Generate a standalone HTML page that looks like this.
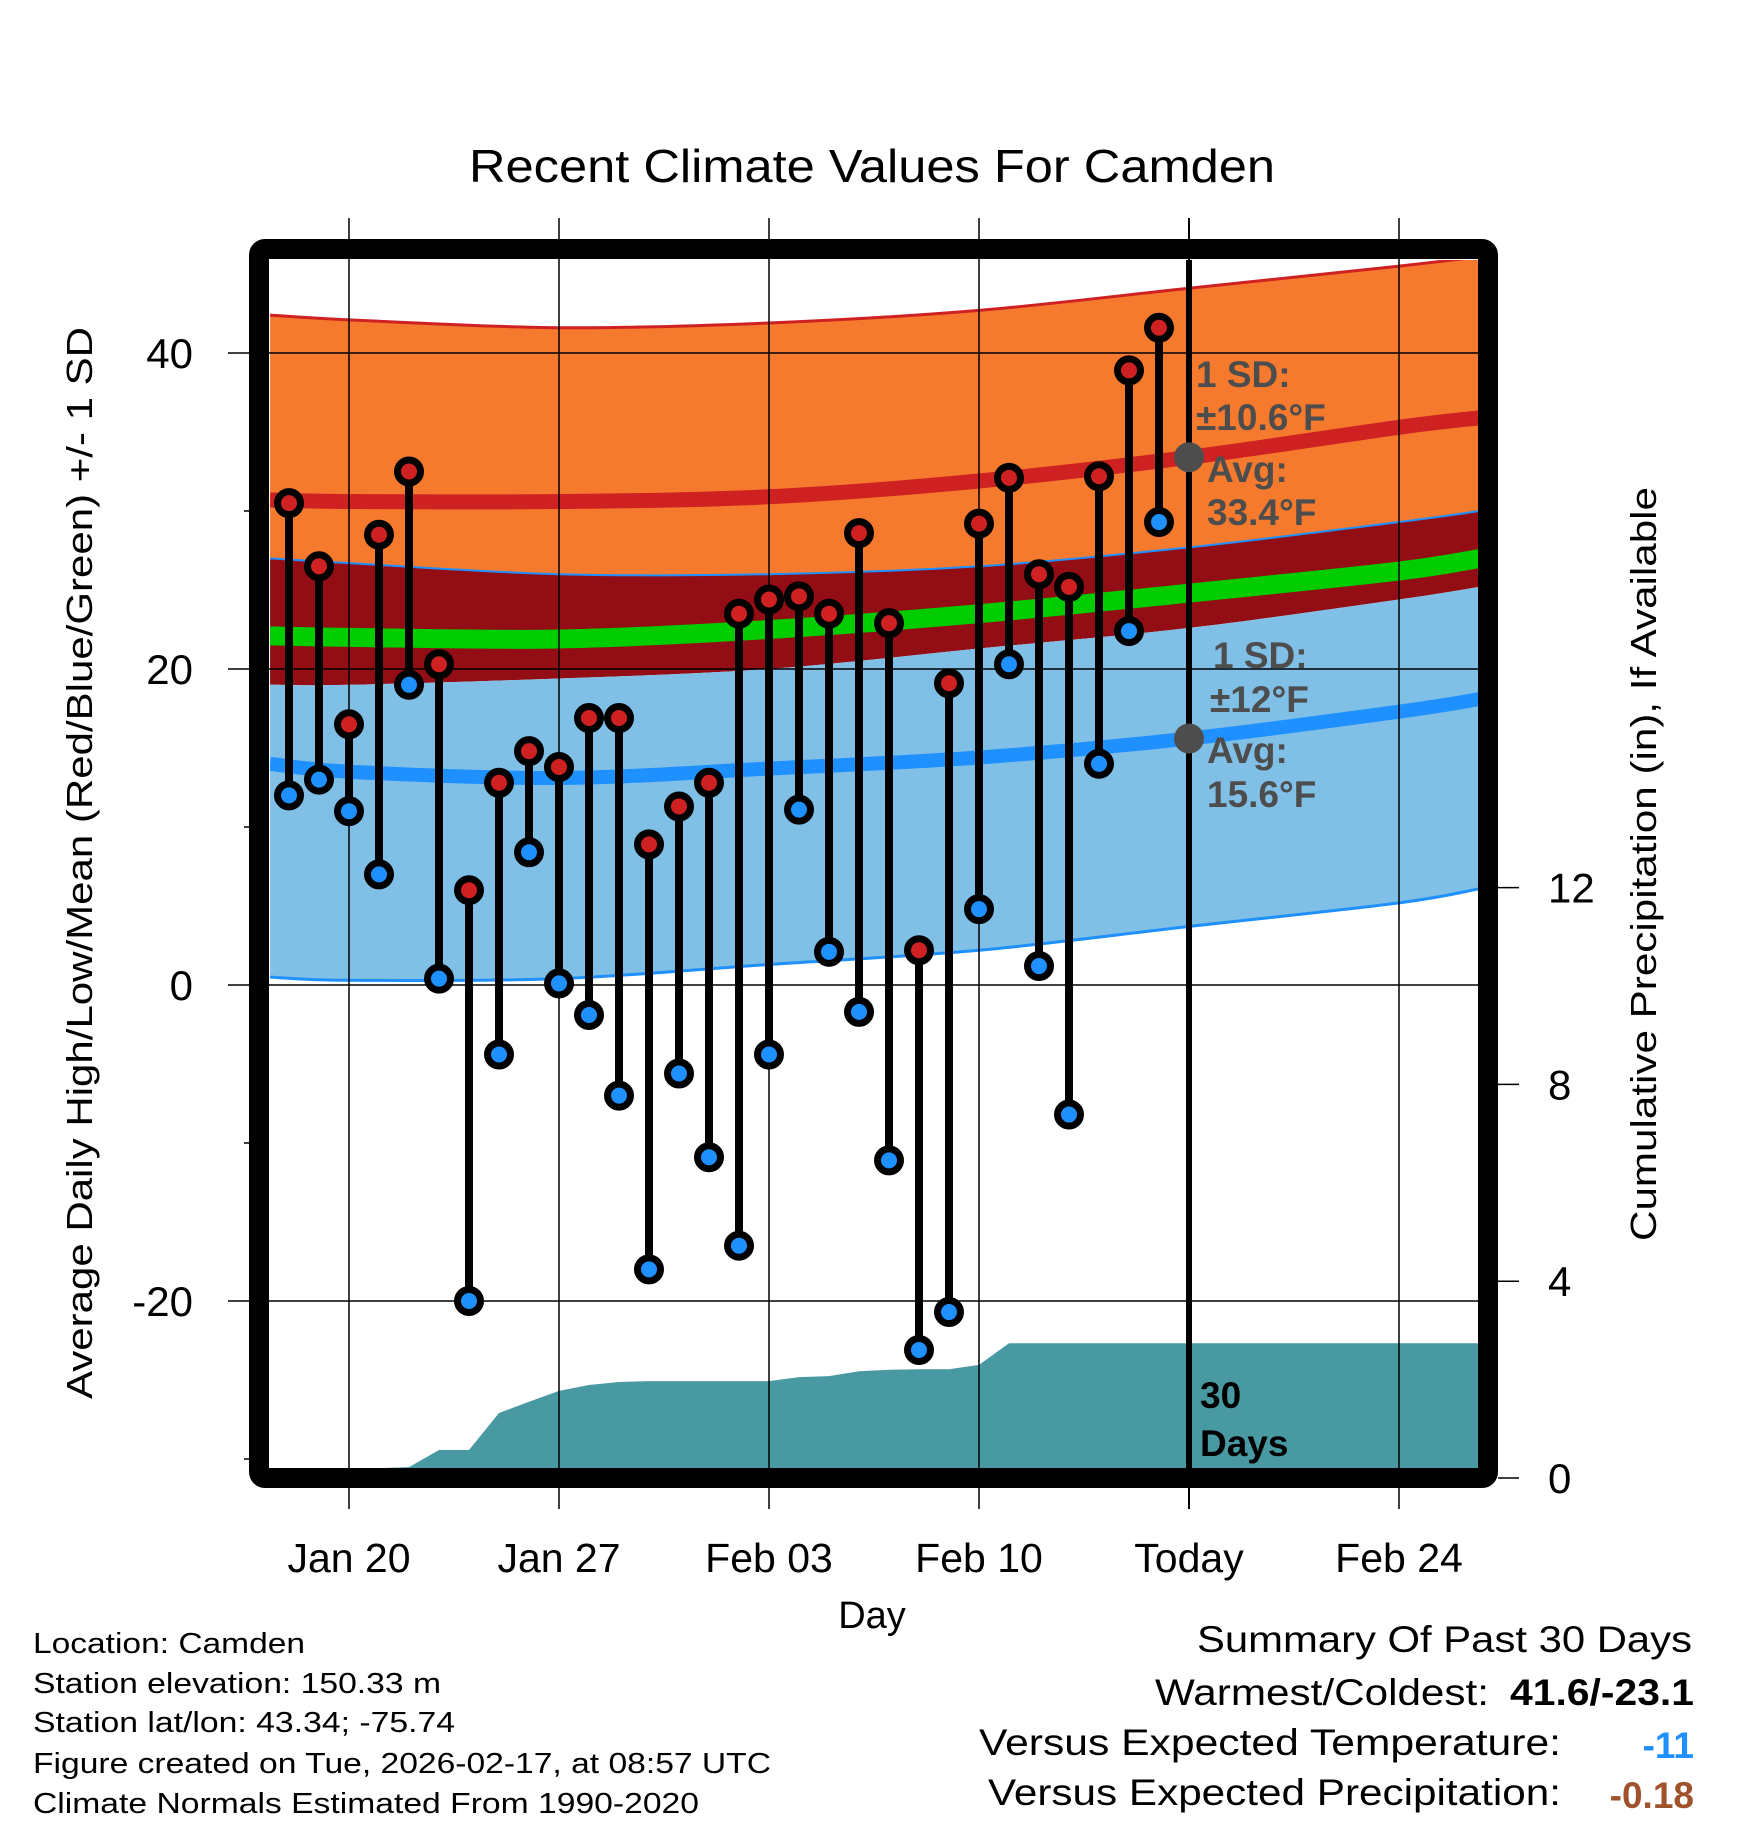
<!DOCTYPE html>
<html><head><meta charset="utf-8"><style>
html,body{margin:0;padding:0;background:#fff;}
svg{display:block;font-family:"Liberation Sans",Arial,sans-serif;}
</style></head><body>
<svg id="chart" width="1748" height="1828" viewBox="0 0 1748 1828" xmlns="http://www.w3.org/2000/svg">
<defs><clipPath id="plotclip"><rect x="270" y="260" width="1208" height="1208"/></clipPath></defs>
<g id="fills" clip-path="url(#plotclip)"></g>
<g id="grid"></g>
<g id="marks" clip-path="url(#plotclip)"></g>
<g id="annot">
  <g font-weight="bold" fill="#4d4d4d" font-size="37">
    <text x="1196" y="387">1 SD:</text>
    <text x="1196" y="430">±10.6°F</text>
    <text x="1207" y="482">Avg:</text>
    <text x="1207" y="525">33.4°F</text>
    <text x="1213" y="668">1 SD:</text>
    <text x="1210" y="712">±12°F</text>
    <text x="1207" y="763">Avg:</text>
    <text x="1207" y="807">15.6°F</text>
  </g>
  <text x="1200" y="1408" font-weight="bold" font-size="37" fill="#000">30</text>
  <text x="1200" y="1456" font-weight="bold" font-size="37" fill="#000">Days</text>
</g>
<g id="frame">
  <rect x="259" y="249" width="1229" height="1229" rx="6" fill="none" stroke="#000" stroke-width="20"/>
</g>
<g id="axes"></g>
<g>
  <text x="872" y="182" text-anchor="middle" font-size="46" textLength="806" lengthAdjust="spacingAndGlyphs">Recent Climate Values For Camden</text>
  <text x="872" y="1628" text-anchor="middle" font-size="38">Day</text>
  <text transform="translate(92,863) rotate(-90)" text-anchor="middle" font-size="36" textLength="1072" lengthAdjust="spacingAndGlyphs">Average Daily High/Low/Mean (Red/Blue/Green) +/- 1 SD</text>
  <text transform="translate(1656,864) rotate(-90)" text-anchor="middle" font-size="36" textLength="754" lengthAdjust="spacingAndGlyphs">Cumulative Precipitation (in), If Available</text>
</g>
<g font-size="29">
  <text x="33" y="1653" textLength="272" lengthAdjust="spacingAndGlyphs">Location: Camden</text>
  <text x="33" y="1693" textLength="408" lengthAdjust="spacingAndGlyphs">Station elevation: 150.33 m</text>
  <text x="33" y="1732" textLength="422" lengthAdjust="spacingAndGlyphs">Station lat/lon: 43.34; -75.74</text>
  <text x="33" y="1773" textLength="738" lengthAdjust="spacingAndGlyphs">Figure created on Tue, 2026-02-17, at 08:57 UTC</text>
  <text x="33" y="1813" textLength="666" lengthAdjust="spacingAndGlyphs">Climate Normals Estimated From 1990-2020</text>
</g>
<g font-size="37">
  <text x="1692" y="1652" text-anchor="end" textLength="495" lengthAdjust="spacingAndGlyphs">Summary Of Past 30 Days</text>
  <text x="1489" y="1705" text-anchor="end" textLength="334" lengthAdjust="spacingAndGlyphs">Warmest/Coldest:</text>
  <text x="1694" y="1705" text-anchor="end" font-weight="bold" textLength="184" lengthAdjust="spacingAndGlyphs">41.6/-23.1</text>
  <text x="1561" y="1755" text-anchor="end" textLength="582" lengthAdjust="spacingAndGlyphs">Versus Expected Temperature:</text>
  <text x="1694" y="1758" text-anchor="end" font-weight="bold" fill="#1e90ff">-11</text>
  <text x="1561" y="1805" text-anchor="end" textLength="573" lengthAdjust="spacingAndGlyphs">Versus Expected Precipitation:</text>
  <text x="1694" y="1808" text-anchor="end" font-weight="bold" fill="#a0522d">-0.18</text>
</g>
</svg>
<script>
// ---- data ----
const days = ["Jan 18","Jan 19","Jan 20","Jan 21","Jan 22","Jan 23","Jan 24","Jan 25","Jan 26","Jan 27","Jan 28","Jan 29","Jan 30","Jan 31","Feb 01","Feb 02","Feb 03","Feb 04","Feb 05","Feb 06","Feb 07","Feb 08","Feb 09","Feb 10","Feb 11","Feb 12","Feb 13","Feb 14","Feb 15","Feb 16"];
const highs = [30.5,26.5,16.5,28.5,32.5,20.3,6.0,12.8,14.8,13.8,16.9,16.9,8.9,11.3,12.8,23.5,24.4,24.6,23.5,28.6,22.9,2.2,19.1,29.2,32.1,26.0,25.2,32.2,38.9,41.6];
const lows = [12.0,13.0,11.0,7.0,19.0,0.4,-20.0,-4.4,8.4,0.1,-1.9,-7.0,-18.0,-5.6,-10.9,-16.5,-4.4,11.1,2.1,-1.7,-11.1,-23.1,-20.7,4.8,20.3,1.2,-8.2,14.0,22.4,29.3];
const precip = [0.2,0.2,0.2,0.2,0.22,0.57,0.57,1.32,1.55,1.77,1.89,1.95,1.97,1.97,1.97,1.97,1.97,2.05,2.07,2.17,2.2,2.21,2.21,2.3,2.74,2.74,2.74,2.74,2.74,2.74];
// normals sampled at day offsets from Jan 20
const normDays = [-2.63,0,7,14,21,28,35,37.7];
const hiUpper = [42.4,42.1,41.6,41.9,42.7,44.1,45.5,46.1];
const hiMean = [30.7,30.6,30.6,30.9,31.9,33.4,35.3,35.9];
const loUpper = [27.0,26.7,26.0,26.0,26.5,27.7,29.3,30.0];
const midMean = [22.1,22.0,21.9,22.5,23.5,24.8,26.2,27.0];
const hiLower = [19.0,19.0,19.4,20.0,21.3,22.6,24.4,25.2];
const loMean = [14.0,13.5,13.1,13.7,14.4,15.6,17.3,18.1];
const loLower = [0.5,0.3,0.4,1.3,2.2,3.7,5.2,6.1];
const xTickLabels = ["Jan 20","Jan 27","Feb 03","Feb 10","Today","Feb 24"];
const xTickDays = [0,7,14,21,28,35];
const yTicks = [40,20,0,-20];
const yMinor = [30,10,-10,-30];
const pTicks = [0,4,8,12];
const firstDayOffset = -2;

// ---- scales ----
const X = d => 349 + 30*d;
const Y = t => 985 - 15.8*t;
const P = p => 1478 - 49.2*p;
const NS = "http://www.w3.org/2000/svg";
function mk(tag, attrs, parent){const e=document.createElementNS(NS,tag);for(const k in attrs)e.setAttribute(k,attrs[k]);parent.appendChild(e);return e;}
function pts(arr){return normDays.map((d,i)=>[X(d),Y(arr[i])]);}
function smooth(p){let s="M"+p[0][0]+","+p[0][1];for(let i=0;i<p.length-1;i++){const p0=p[i-1]||p[i],p1=p[i],p2=p[i+1],p3=p[i+2]||p2;const c1=[p1[0]+(p2[0]-p0[0])/6,p1[1]+(p2[1]-p0[1])/6];const c2=[p2[0]-(p3[0]-p1[0])/6,p2[1]-(p3[1]-p1[1])/6];s+=" C"+c1+" "+c2+" "+p2;}return s;}
function smoothRev(p){return smooth(p.slice().reverse()).replace(/^M/," L");}
function band(a,b){return smooth(pts(a))+smoothRev(pts(b))+" Z";}

const fills=document.getElementById('fills');
let e;
e=mk('path',{d:band(hiUpper,loUpper),fill:'#f57a2d'},fills);


e=mk('path',{d:band(loUpper,hiLower),fill:'#920d14'},fills);


e=mk('path',{d:band(hiLower,loLower),fill:'#80bfe6'},fills);


e=mk('path',{d:smooth(pts(hiUpper)),fill:'none',stroke:'#cf2121','stroke-width':3},fills);


e=mk('path',{d:smooth(pts(loUpper)),fill:'none',stroke:'#1e90ff','stroke-width':2},fills);


e=mk('path',{d:smooth(pts(loLower)),fill:'none',stroke:'#1e90ff','stroke-width':3},fills);


e=mk('path',{d:smooth(pts(midMean)),fill:'none',stroke:'#00cc00','stroke-width':19},fills);


e=mk('path',{d:smooth(pts(hiMean)),fill:'none',stroke:'#cf2121','stroke-width':15},fills);


e=mk('path',{d:smooth(pts(loMean)),fill:'none',stroke:'#1e90ff','stroke-width':14},fills);


// precip area
let pd="M"+X(firstDayOffset)+","+P(0);
precip.forEach((v,i)=>{pd+=" L"+X(firstDayOffset+i)+","+P(v);});
pd+=" L1480,"+P(precip[precip.length-1])+" L1480,"+P(0)+" L270,"+P(0)+" L270,"+P(precip[0])+" L"+X(firstDayOffset)+","+P(precip[0])+" Z";
e=mk('path',{d:pd,fill:'#4899a2'},fills);



// grid
const grid=document.getElementById('grid');
xTickDays.forEach((d,i)=>{
  const isToday = xTickLabels[i]==="Today";
  e=mk('line',{x1:X(d),x2:X(d),y1:218,y2:1509,stroke:'#000','stroke-width':isToday?2:1.5},grid);
  
  
});
yTicks.forEach(t=>{
  e=mk('line',{x1:228,x2:1478,y1:Y(t),y2:Y(t),stroke:'#000','stroke-width':1.5},grid);
  
  
});

// marks
const marks=document.getElementById('marks');
e=mk('line',{x1:X(28),x2:X(28),y1:260,y2:1470,stroke:'#000','stroke-width':6},marks);


highs.forEach((h,i)=>{
  const x=X(firstDayOffset+i);
  e=mk('line',{x1:x,x2:x,y1:Y(h),y2:Y(lows[i]),stroke:'#000','stroke-width':8},marks);
  
  
});
highs.forEach((h,i)=>{
  const x=X(firstDayOffset+i);
  e=mk('circle',{cx:x,cy:Y(h),r:11.5,fill:'#cf2121',stroke:'#000','stroke-width':7},marks);
  
  
  e=mk('circle',{cx:x,cy:Y(lows[i]),r:11.5,fill:'#1e90ff',stroke:'#000','stroke-width':7},marks);
  
  
});
e=mk('circle',{cx:X(28),cy:Y(hiMean[5]),r:15,fill:'#4d4d4d'},marks);


e=mk('circle',{cx:X(28),cy:Y(loMean[5]),r:15,fill:'#4d4d4d'},marks);



// axes
const axes=document.getElementById('axes');
yTicks.forEach(t=>{
  e=mk('text',{x:193,y:Y(t)+15,'text-anchor':'end','font-size':42},axes);
  e.textContent=String(t);
  
  
});
yMinor.forEach(t=>{
  e=mk('line',{x1:244,x2:252,y1:Y(t),y2:Y(t),stroke:'#000','stroke-width':1.5},axes);
  
  
});
pTicks.forEach(p=>{
  e=mk('line',{x1:1498,x2:1519,y1:P(p),y2:P(p),stroke:'#000','stroke-width':1.5},axes);
  
  
  e=mk('text',{x:1548,y:P(p)+15,'font-size':42},axes);
  e.textContent=String(p);
  
  
});
xTickDays.forEach((d,i)=>{
  e=mk('text',{x:X(d),y:1572,'text-anchor':'middle','font-size':41},axes);
  e.textContent=xTickLabels[i];
  
  
});
</script>
</body></html>
